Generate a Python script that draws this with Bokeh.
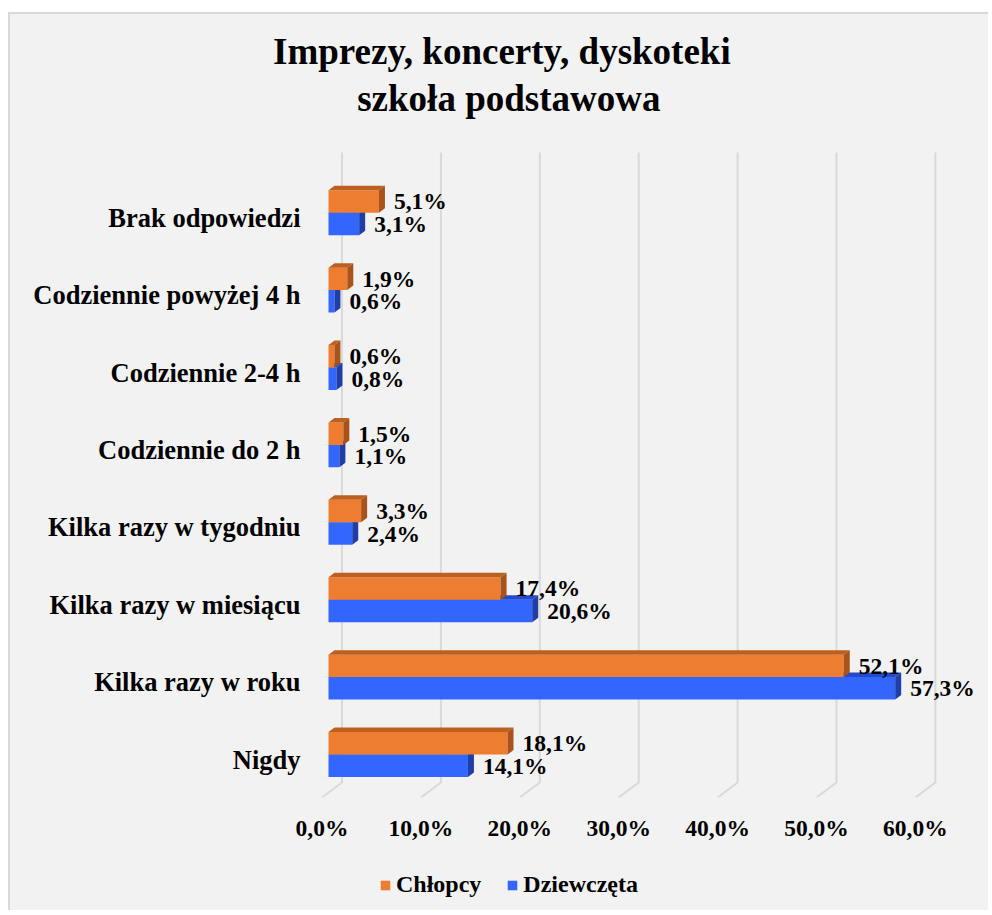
from bokeh.plotting import figure
from bokeh.models import (Range1d, LinearAxis, FixedTicker, Title, Legend, LegendItem,
                          ColumnDataSource, Spacer)
from bokeh.layouts import column, row
from bokeh.core.properties import value
from bokeh.embed import file_html
from bokeh.resources import INLINE

# ---------------- data ----------------
categories = ["Nigdy", "Kilka razy w roku", "Kilka razy w miesiącu", "Kilka razy w tygodniu",
              "Codziennie do 2 h", "Codziennie 2-4 h", "Codziennie powyżej 4 h", "Brak odpowiedzi"]
chlopcy = [18.1, 52.1, 17.4, 3.3, 1.5, 0.6, 1.9, 5.1]
dziewczeta = [14.1, 57.3, 20.6, 2.4, 1.1, 0.8, 0.6, 3.1]
x_ticks = [0, 10, 20, 30, 40, 50, 60]
series_names = ["Chłopcy", "Dziewczęta"]
title_lines = ["Imprezy, koncerty, dyskoteki", "szkoła podstawowa"]

# ---------------- styling / geometry ----------------
FONT = "Liberation Serif"
BG = "#f2f2f2"
GRID = "#d9d9d9"
BORDER = "2px solid #d9d9d9"
OR_FRONT, OR_TOP, OR_SIDE = "#ED7D31", "#BD5F1F", "#A8531B"
BL_FRONT, BL_TOP, BL_SIDE = "#3366FF", "#2449C9", "#1F3EA6"

PX_X = 9.89      # pixels per percent
PX_Y = 77.4      # pixels per category step
BAR_H = 0.29     # bar thickness (category units)
DEP_X = 6 / PX_X     # bar depth in data units
DEP_Y = 4.5 / PX_Y

W = 980
fig = figure(width=W, height=841,
             x_range=Range1d(-18 / PX_X, 657 / PX_X),
             y_range=Range1d(-43 / PX_Y, 604 / PX_Y),
             x_axis_type=None, y_axis_type=None,
             output_backend="svg", toolbar_location=None,
             background_fill_color=BG, border_fill_color=BG,
             min_border_left=300, min_border_right=5,
             min_border_top=136, min_border_bottom=58)
fig.outline_line_color = None
fig.styles = {"border-left": BORDER, "border-top": BORDER}

fig.extra_x_ranges = {"floor": Range1d(-11.5 / PX_X, 663.5 / PX_X)}
fig.extra_y_ranges = {"lab": Range1d(-38 / PX_Y, 609 / PX_Y)}

# ---------- 3D-ish gridlines (back wall + floor) ----------
back_dx, back_dy_top, back_dy_bot = 13.5 / PX_X, 602 / PX_Y, -28 / PX_Y
front_dx, front_y = -6.5 / PX_X, -43 / PX_Y
g_xs = [[t + back_dx, t + back_dx, t + front_dx] for t in x_ticks]
g_ys = [[back_dy_top, back_dy_bot, front_y] for t in x_ticks]
fig.multi_line(xs=g_xs, ys=g_ys, line_color=GRID, line_width=2)

# ---------- bars ----------
ypos = list(range(len(categories)))


def draw_series(vals, offset_sign, front, top, side):
    yc = [y + offset_sign * BAR_H / 2 for y in ypos]
    src = ColumnDataSource(dict(y=yc, v=vals))
    r = fig.hbar(y="y", left=0, right="v", height=BAR_H, source=src,
                 fill_color=front, line_color=None)
    ytop = [y + BAR_H / 2 for y in yc]
    ybot = [y - BAR_H / 2 for y in yc]
    top_xs = [[0, v, v + DEP_X, DEP_X] for v in vals]
    top_ys = [[yt, yt, yt + DEP_Y, yt + DEP_Y] for yt in ytop]
    fig.patches(xs=top_xs, ys=top_ys, fill_color=top, line_color=None)
    side_xs = [[v, v + DEP_X, v + DEP_X, v] for v in vals]
    side_ys = [[yb, yb + DEP_Y, yt + DEP_Y, yt] for yb, yt in zip(ybot, ytop)]
    fig.patches(xs=side_xs, ys=side_ys, fill_color=side, line_color=None)
    labels = [f"{v:.1f}".replace(".", ",") + "%" for v in vals]
    lsrc = ColumnDataSource(dict(x=vals, y=yc, t=labels))
    fig.text(x="x", y="y", text="t", source=lsrc, x_offset=15,
             text_baseline="middle", text_align="left",
             text_font=value(FONT), text_font_style="bold",
             text_font_size="23.5px", text_color="black")
    return r


r_blue = draw_series(dziewczeta, -1, BL_FRONT, BL_TOP, BL_SIDE)
r_orange = draw_series(chlopcy, 1, OR_FRONT, OR_TOP, OR_SIDE)

# ---------- axes ----------
xaxis = LinearAxis(x_range_name="floor", ticker=FixedTicker(ticks=x_ticks))
xaxis.major_label_overrides = {t: f"{t:.1f}".replace(".", ",") + "%" for t in x_ticks}
xaxis.axis_line_color = None
xaxis.major_tick_line_color = None
xaxis.minor_tick_line_color = None
xaxis.major_tick_out = 0
xaxis.major_tick_in = 0
xaxis.major_label_standoff = 17
xaxis.major_label_text_font = FONT
xaxis.major_label_text_font_style = "bold"
xaxis.major_label_text_font_size = "23.5px"
xaxis.major_label_text_color = "black"
fig.add_layout(xaxis, "below")

yaxis = LinearAxis(y_range_name="lab", ticker=FixedTicker(ticks=ypos))
yaxis.major_label_overrides = {i: c for i, c in enumerate(categories)}
yaxis.axis_line_color = None
yaxis.major_tick_line_color = None
yaxis.minor_tick_line_color = None
yaxis.major_tick_out = 0
yaxis.major_tick_in = 0
yaxis.major_label_standoff = 10
yaxis.major_label_text_font = FONT
yaxis.major_label_text_font_style = "bold"
yaxis.major_label_text_font_size = "26.5px"
yaxis.major_label_text_color = "black"
fig.add_layout(yaxis, "left")

# ---------- titles (blank spacer panel nearest the plot, then two lines) ----------
gap = Title(text=" ", text_font_size="1px", standoff=25)
t2 = Title(text=title_lines[1], align="left", offset=46.7, text_font=FONT,
           text_font_style="bold", text_font_size="37px", text_color="black", standoff=8)
t1 = Title(text=title_lines[0], align="left", offset=-37.5, text_font=FONT,
           text_font_style="bold", text_font_size="37px", text_color="black", standoff=0)
fig.add_layout(gap, "above")
fig.add_layout(t2, "above")
fig.add_layout(t1, "above")

# ---------- legend strip (continues the chart area below the axis) ----------
leg = figure(width=W, height=57, x_range=Range1d(0, 1), y_range=Range1d(100, 101),
             x_axis_type=None, y_axis_type=None,
             output_backend="svg", toolbar_location=None,
             background_fill_color=BG, border_fill_color=BG,
             min_border_left=0, min_border_right=0, min_border_top=0, min_border_bottom=0)
leg.outline_line_color = None
leg.styles = {"border-left": BORDER}
lr_or = leg.hbar(y=ypos, right=chlopcy, height=BAR_H, fill_color=OR_FRONT, line_color=None)
lr_bl = leg.hbar(y=ypos, right=dziewczeta, height=BAR_H, fill_color=BL_FRONT, line_color=None)
legend = Legend(items=[LegendItem(label=series_names[0], renderers=[lr_or]),
                       LegendItem(label=series_names[1], renderers=[lr_bl])],
                orientation="horizontal", location=(69, 12),
                label_text_font=FONT, label_text_font_style="bold",
                label_text_font_size="24px", label_text_color="black",
                glyph_width=12, glyph_height=12, label_standoff=5, spacing=25,
                background_fill_alpha=0, border_line_color=None, margin=0, padding=4)
leg.add_layout(legend, "center")

charts = column(fig, leg)
charts.styles = {"background-color": BG}
layout = column(Spacer(height=12, width=W),
                row(Spacer(width=8, height=898), charts))
open("out.html", "w").write(file_html(layout, INLINE))
